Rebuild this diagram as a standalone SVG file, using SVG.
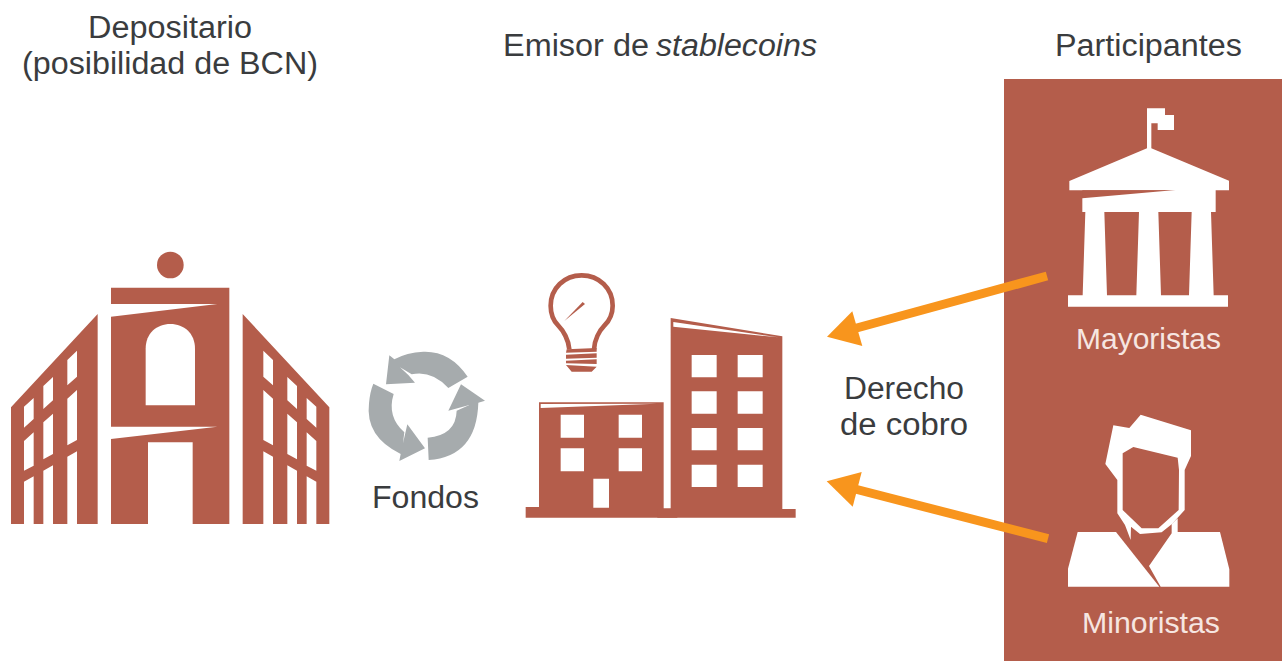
<svg xmlns="http://www.w3.org/2000/svg" width="1282" height="661" viewBox="0 0 1282 661">
<style>
text{font-family:"Liberation Sans",Arial,sans-serif;font-size:31px;fill:#3a3c3e;text-anchor:middle}
.s{text-anchor:start}
.lt{fill:#f6e6e1;font-size:29px}
.b{fill:#b45d4b}
.w{fill:#fff}
.g{fill:#a6abad}
.a{fill:#f8951d}
.al{stroke:#f8951d;stroke-width:9;fill:none}
</style>
<rect width="1282" height="661" fill="#fff"/>
<g id="panel-participantes"><rect class="b" x="1004" y="79" width="278" height="582"/><text x="1148.500" y="56" textLength="187" lengthAdjust="spacingAndGlyphs">Participantes</text></g>
<g id="depositario">
<text x="170" y="38" textLength="164" lengthAdjust="spacingAndGlyphs">Depositario</text><text x="170" y="74" textLength="296" lengthAdjust="spacingAndGlyphs">(posibilidad de BCN)</text>
<g transform="translate(0,240) scale(.33333)">
<circle class="b" cx="511" cy="75" r="40"/>
<path class="b" d="M333,143H688V852H578V607H444V852H333V597L652,560H333V230L652,192H333Z"/>
<path class="w" d="M437,496V326C437,280 470,252 511,252C552,252 585,280 585,326V496Z"/>
<path class="b" fill-rule="evenodd" d="M33,502L293,222V852H231V634L202,650V852H159V676L130,692V852H101V709L72,725V852H33Z M202,360L231,332V410L202,436Z M202,476L231,450V600L202,616Z M130,438L159,411V481L130,507Z M130,547L159,521V642L130,658Z M72,500L101,474V537L72,563Z M72,603L101,577V677L72,692Z"/>
<path class="b" fill-rule="evenodd" transform="translate(1021,0) scale(-1,1)" d="M33,502L293,222V852H231V634L202,650V852H159V676L130,692V852H101V709L72,725V852H33Z M202,360L231,332V410L202,436Z M202,476L231,450V600L202,616Z M130,438L159,411V481L130,507Z M130,547L159,521V642L130,658Z M72,500L101,474V537L72,563Z M72,603L101,577V677L72,692Z"/>
</g>
</g>
<g id="fondos">
<g transform="translate(360,260) scale(.33333)">
<path class="g" d="M323,350Q270,272 190,275Q140,277 103,298L88,286L78,373L165,368L145,345L120,322L155,343Q215,330 265,384Z"/>
<path class="g" d="M375,422L303,373L265,452L328,435L290,452Q288,525 203,533L206,600Q350,590 355,428Z"/>
<path class="g" d="M40,371L101,402Q80,470 133,517L129,550L142,493L195,565L118,603L122,582Q15,530 27,430Q30,395 40,371Z"/>
</g>
<text x="425.500" y="508" textLength="107" lengthAdjust="spacingAndGlyphs">Fondos</text>
</g>
<g id="emisor">
<text class="s" y="56"><tspan x="503" textLength="146" lengthAdjust="spacingAndGlyphs">Emisor de</tspan><tspan x="656" textLength="161" lengthAdjust="spacingAndGlyphs" font-style="italic">stablecoins</tspan></text>
<g transform="translate(360,260) scale(.33333)">
<path fill="none" stroke="#b45d4b" stroke-width="14" d="M628,268C626,240 610,212 595,197C578,180 572,160 572,137C572,85 613,46 665,46C717,46 758,85 758,137C758,160 750,180 733,197C718,212 703,240 702,268"/>
<path class="b" d="M613,183L668,126L675,132Z"/>
<path class="b" d="M620,268L710,264V275L618,278ZM618,284L710,280V293L618,296ZM618,302L710,298V312L618,310ZM618,315L710,320L695,335H635Z"/>
<path class="b" d="M537,427H911V745H952V773H497V741H537Z"/>
<path class="w" d="M542,432L890,431L542,444Z"/>
<path class="w" d="M602,464h70v69h-70zM776,464h70v69h-70zM602,565h70v69h-70zM776,565h70v69h-70zM700,656h47v87h-47z"/>
<path class="b" d="M932,174L1267,229V747H1307V773H892V747H932Z"/>
<path class="w" d="M940,186L1255,232L940,200Z"/>
<path class="w" d="M995,285h75v67h-75zM1133,285h75v67h-75zM995,394h75v67h-75zM1133,394h75v67h-75zM995,504h75v67h-75zM1133,504h75v67h-75zM995,614h75v67h-75zM1133,614h75v67h-75z"/>
</g>
</g>
<g id="mayoristas">
<g transform="translate(1040,90) scale(.33333)">
<path class="w" d="M321,55H375V75H402V120H353V100H334V175L567,272V301H88V273L321,175Z"/>
<path class="b" d="M88,301H407L127,325V301Z"/>
<path class="w" d="M127,325L407,300H527V366H513L521,616H564V650H84V616H128L136,366H127Z"/>
<path class="b" d="M193,366H297L289,616H201ZM355,366H455L447,616H363Z"/>
</g>
<text class="lt" x="1148.500" y="349" textLength="145" lengthAdjust="spacingAndGlyphs">Mayoristas</text>
</g>
<g id="minoristas">
<g transform="translate(1040,400) scale(.33333)">
<path class="w" fill-rule="evenodd" d="M220,76L268,84L302,44L453,91V168L434,210V330L396,372L365,397L300,402L273,380L272,420L255,375L232,340V240L196,192Z M248,160L280,141L413,173L417,210L416,330L355,385L305,385L248,330Z"/>
<path class="w" d="M413,355V396H540L568,508V560H362L327,498L395,400V372Z"/>
<path class="w" d="M113,396H228L358,560H84V506Z"/>
</g>
<text class="lt" x="1151" y="633" textLength="138" lengthAdjust="spacingAndGlyphs">Minoristas</text>
</g>
<g id="connectors">
<path class="al" d="M1047,276L853,329"/>
<path class="a" d="M827,336.700L852.300,311.300L862.300,346Z"/>
<path class="al" d="M1048,538.700L855,489"/>
<path class="a" d="M826.700,481.300L861.700,472L852.700,506.700Z"/>
</g>
<g id="label-derecho"><text x="904" y="398.500" textLength="120" lengthAdjust="spacingAndGlyphs">Derecho</text><text x="904" y="434.500" textLength="128" lengthAdjust="spacingAndGlyphs">de cobro</text></g>
</svg>
